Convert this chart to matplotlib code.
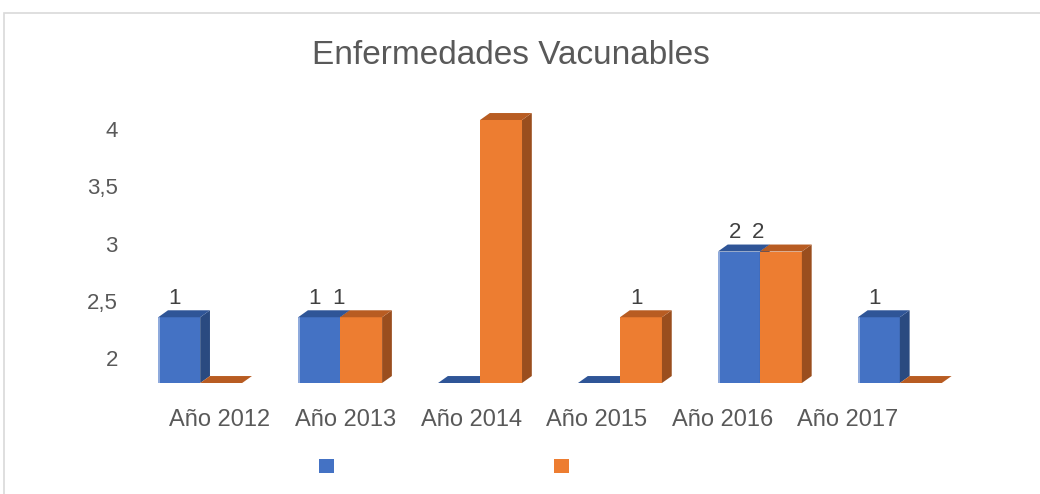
import numpy as np
import matplotlib
matplotlib.use("Agg")
import matplotlib.pyplot as plt
from matplotlib.patches import Polygon, Rectangle, Patch

plt.rcParams['font.family'] = ['Liberation Sans', 'DejaVu Sans']

years = ['Año 2012', 'Año 2013', 'Año 2014', 'Año 2015', 'Año 2016', 'Año 2017']
serie_a = [1, 1, 0, 0, 2, 1]
serie_b = [0, 1, 4, 1, 2, 0]
ytick_labels = ['2', '2,5', '3', '3,5', '4']

colors = {
    'a': ('#4472C4', '#2F5597', '#2A4A80'),
    'b': ('#ED7D31', '#B85C22', '#9A4E1E'),
}
text_col = '#595959'

fig = plt.figure(figsize=(10.4, 4.94), dpi=100)
fig.patches.append(Rectangle((4 / 1040, -0.01), 1.0, 1 - 13 / 494 + 0.01,
                             transform=fig.transFigure, fill=False,
                             edgecolor='#D9D9D9', linewidth=1.2))

ax = fig.add_axes([140 / 1040, 1 - 383 / 494, 820 / 1040, (383 - 114) / 494])
ax.set_xlim(-0.43, 5.43)
ax.set_ylim(0, (383 - 114) / 65.75)

w = 0.3
dx, dy = 0.07, 0.106


def bar3d(x0, h, key):
    front, top, side = colors[key]
    ax.add_patch(Rectangle((x0, 0), w, h, facecolor=front, edgecolor='none',
                           clip_on=False))
    if key == 'a' and h > 0:
        # lighter left edge of the blue bars
        ax.add_patch(Rectangle((x0, 0), 0.012, h, facecolor='#8FAADC',
                               edgecolor='none', clip_on=False))
    ax.add_patch(Polygon([(x0 + w, 0), (x0 + w + dx, dy), (x0 + w + dx, h + dy),
                          (x0 + w, h)], closed=True, facecolor=side,
                         edgecolor='none', clip_on=False))
    ax.add_patch(Polygon([(x0, h), (x0 + w, h), (x0 + w + dx, h + dy),
                          (x0 + dx, h + dy)], closed=True, facecolor=top,
                         edgecolor='none', clip_on=False))


def label(x, h):
    ax.text(x, h + dy + 0.02, str(h), ha='center', va='bottom',
            fontsize=16, color='#404040', clip_on=True)


for i in range(len(years)):
    a, b = serie_a[i], serie_b[i]
    bar3d(i - w, a, 'a')
    bar3d(i, b, 'b')
    xa = i - w / 2 - 0.03
    if a > 0:
        label(xa, a)
    if b > 0:
        # Excel squeezes the second label next to the first one
        label(xa + 0.17 if a > 0 else i + w / 2 - 0.03, b)

# y tick labels (axis as in the original)
ypos = [0.38 + (float(l.replace(',', '.')) - 2) * 1.74 for l in ytick_labels]
ax.set_yticks(ypos, ytick_labels)
xpos = [0.14 + i * 0.898 for i in range(len(years))]
ax.set_xticks(xpos, years)
ax.tick_params(axis='both', length=0, labelsize=16, colors=text_col)
ax.tick_params(axis='y', pad=16)
ax.tick_params(axis='x', labelsize=17, pad=19)
for s in ax.spines.values():
    s.set_visible(False)

fig.text(0.491, 1 - 55 / 494, 'Enfermedades Vacunables', ha='center',
         va='center', fontsize=24, color=text_col)

handles = [Patch(facecolor=colors['a'][0]), Patch(facecolor=colors['b'][0])]
fig.legend(handles, ['', ''], ncol=2, loc='center',
           bbox_to_anchor=(450 / 1040, 1 - 467 / 494), frameon=False,
           fontsize=11, handlelength=1, handleheight=1, columnspacing=13.6,
           handletextpad=0.8)

fig.savefig('out.png', dpi=100)
